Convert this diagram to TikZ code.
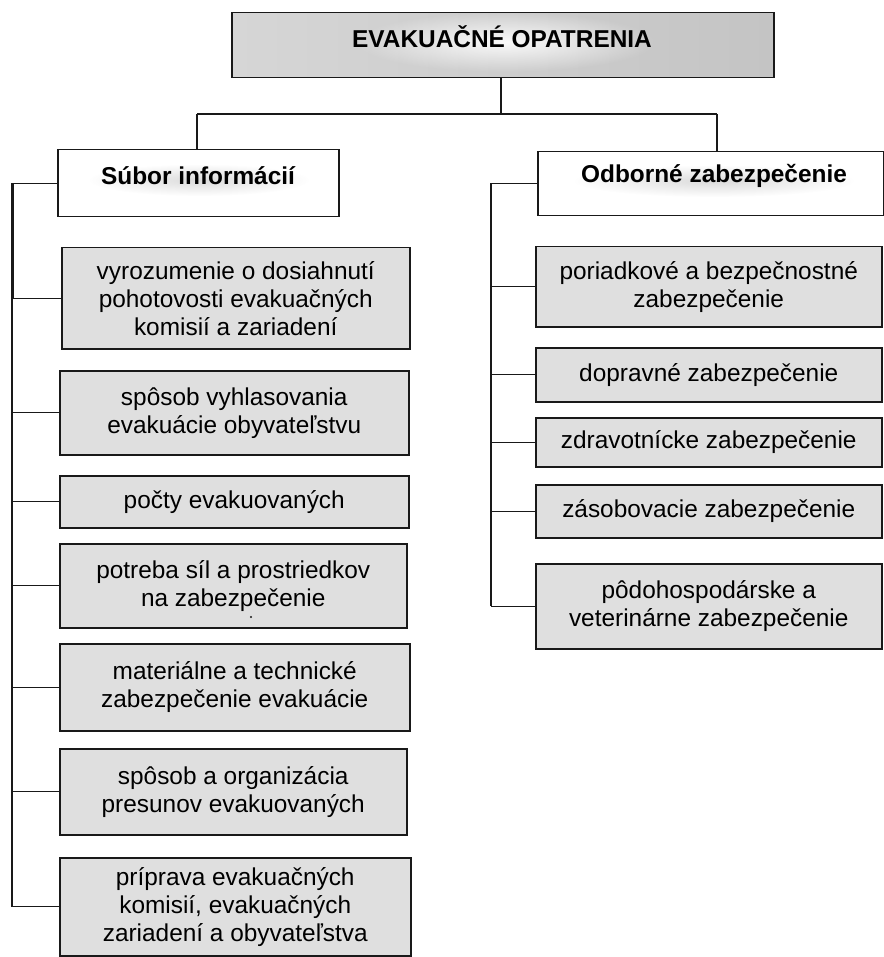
\documentclass[tikz,border=0pt]{standalone}
\usepackage{fontspec}
\setmainfont{Liberation Sans}
\usetikzlibrary{fadings}
\definecolor{boxgray}{RGB}{223,223,223}
\definecolor{edge}{RGB}{25,25,25}
\definecolor{titleL}{RGB}{214,214,214}
\definecolor{titleR}{RGB}{196,196,196}
\newcommand\itemfont{\fontsize{24.4}{28}\selectfont}
\newcommand\headfont{\fontsize{24.4}{28}\selectfont\bfseries}
\tikzfading[name=softglow, inner color=transparent!0, outer color=transparent!100]
\begin{document}
\begin{tikzpicture}[x=1pt,y=-1pt,
  framebox/.style={draw=edge, line width=1.5pt, inner sep=0pt, anchor=north west},
  itembox/.style={framebox, fill=boxgray, align=center, font=\itemfont},
  headbox/.style={framebox, fill=white},
  headtext/.style={font=\headfont, inner sep=0pt},
  conn/.style={draw=edge, line width=1.4pt},
  trunkthick/.style={draw=edge, line width=3pt}]
\useasboundingbox (0,0) rectangle (883,957);

% top heading
\node[framebox, left color=titleL, right color=titleR, minimum width=542pt, minimum height=65pt] (title) at (231,12) {};
\fill[white, path fading=softglow, fill opacity=0.9] (505,42) ellipse (150 and 30);
\node[headtext] (titletext) at (502,37) {EVAKUAČNÉ OPATRENIA};

% second level headings
\node[headbox, minimum width=281pt, minimum height=67pt] (left) at (57,149) {};
\fill[black!40, path fading=softglow, fill opacity=0.35] (199,180) ellipse (110 and 16);
\node[headtext] (lefttext) at (198,176) {Súbor informácií};

\node[headbox, minimum width=346pt, minimum height=64pt] (right) at (537,151) {};
\fill[black!40, path fading=softglow, fill opacity=0.35] (714,181) ellipse (140 and 16);
\node[headtext] (righttext) at (714,176) {Odborné zabezpečenie};

% left column
\node[itembox, minimum width=348pt, minimum height=101pt] (l1) at (61,247)
  {vyrozumenie o dosiahnutí\\pohotovosti evakuačných\\komisií a zariadení};
\node[itembox, minimum width=349pt, minimum height=84pt] (l2) at (59,370)
  {spôsob vyhlasovania\\evakuácie obyvateľstvu};
\node[itembox, minimum width=349pt, minimum height=52pt] (l3) at (59,475)
  {počty evakuovaných};
\node[itembox, minimum width=347pt, minimum height=84pt] (l4) at (59,543)
  {potreba síl a prostriedkov\\na zabezpečenie};
\fill[edge] (251,617) circle (1.1);
\node[itembox, minimum width=350pt, minimum height=87pt] (l5) at (59,643)
  {materiálne a technické\\zabezpečenie evakuácie};
\node[itembox, minimum width=347pt, minimum height=86pt] (l6) at (59,748)
  {spôsob a organizácia\\presunov evakuovaných};
\node[itembox, minimum width=351pt, minimum height=98pt] (l7) at (59,857)
  {príprava evakuačných\\komisií, evakuačných\\zariadení a obyvateľstva};

% right column
\node[itembox, minimum width=346pt, minimum height=80pt] (r1) at (535,246)
  {poriadkové a bezpečnostné\\zabezpečenie};
\node[itembox, minimum width=346pt, minimum height=54pt] (r2) at (535,347)
  {dopravné zabezpečenie};
\node[itembox, minimum width=346pt, minimum height=49pt] (r3) at (535,417)
  {zdravotnícke zabezpečenie};
\node[itembox, minimum width=346pt, minimum height=53pt] (r4) at (535,484)
  {zásobovacie zabezpečenie};
\node[itembox, minimum width=346pt, minimum height=85pt] (r5) at (535,563)
  {pôdohospodárske a\\veterinárne zabezpečenie};

% junction points
\coordinate (split) at (501,114);
\coordinate (lhub) at (197,114);
\coordinate (rhub) at (717,114);
\coordinate (ltrunk) at (12,183);
\coordinate (rtrunk) at (491,183);

% top connectors
\draw[conn] (split |- title.south) -- (split);
\draw[conn] (lhub) -- (rhub);
\draw[conn] (lhub) -- (lhub |- left.north);
\draw[conn] (rhub) -- (rhub |- right.north);

% left tree
\draw[conn] (left.west) -- (ltrunk |- left.west);
\draw[trunkthick] (ltrunk |- left.west) -- (ltrunk |- l1.west);
\draw[conn] (ltrunk |- l1.west) -- (ltrunk |- l7.west);
\foreach \n in {l1,l2,l3,l4,l5,l6,l7}
  \draw[conn] (ltrunk |- \n.west) -- (\n.west);

% right tree
\draw[conn] (right.west) -- (rtrunk |- right.west) -- (rtrunk |- r5.west);
\foreach \n in {r1,r2,r3,r4,r5}
  \draw[conn] (rtrunk |- \n.west) -- (\n.west);
\end{tikzpicture}
\end{document}
